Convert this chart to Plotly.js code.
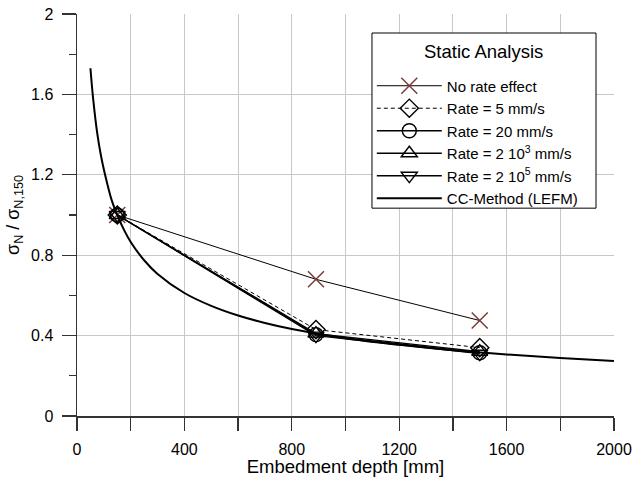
<!DOCTYPE html>
<html><head><meta charset="utf-8">
<script src="https://cdn.plot.ly/plotly-3.0.1.min.js"></script>
<style>body{margin:0;}#c{width:632px;height:477px;}</style>
</head><body><div id="c"></div>
<script>
const depth = [150, 890, 1500];
const noRate = [1.0, 0.68, 0.475];
const rate5 = [1.0, 0.43, 0.34];
const rate20 = [1.0, 0.405, 0.315];
const rate2e3 = [1.0, 0.41, 0.32];
const rate2e5 = [1.0, 0.40, 0.31];
const ccX = [50, 60, 75, 90, 110, 130, 150, 175, 200, 250, 300, 400, 500, 600, 700, 800, 1000, 1200, 1400, 1600, 1800, 2000];
const ccY = [1.73, 1.58, 1.41, 1.29, 1.17, 1.07, 1.0, 0.926, 0.866, 0.775, 0.707, 0.612, 0.548, 0.5, 0.463, 0.433, 0.387, 0.354, 0.327, 0.306, 0.289, 0.274];
const names = ['No rate effect', 'Rate = 5 mm/s', 'Rate = 20 mm/s', 'Rate = 2 10<sup>3</sup> mm/s', 'Rate = 2 10<sup>5</sup> mm/s', 'CC-Method (LEFM)'];
const legendTitle = 'Static Analysis';

const mk = (sym) => ({symbol: sym, size: 14, color: 'black', line: {color: 'black', width: 1.4}});
const traces = [
  {x: depth, y: noRate, name: names[0], mode: 'lines+markers', line: {color: 'black', width: 1},
   marker: {symbol: 'x-thin', size: 16, color: '#7a3b3b', line: {color: '#7a3b3b', width: 1.5}}},
  {x: depth, y: rate5, name: names[1], mode: 'lines+markers', line: {color: 'black', width: 1, dash: '4px,3px'}, marker: mk('diamond-open')},
  {x: depth, y: rate20, name: names[2], mode: 'lines+markers', line: {color: 'black', width: 1.3}, marker: mk('circle-open')},
  {x: depth, y: rate2e3, name: names[3], mode: 'lines+markers', line: {color: 'black', width: 1.3}, marker: mk('triangle-up-open')},
  {x: depth, y: rate2e5, name: names[4], mode: 'lines+markers', line: {color: 'black', width: 1.3}, marker: mk('triangle-down-open')},
  {x: ccX, y: ccY, name: names[5], mode: 'lines', line: {color: 'black', width: 2, shape: 'spline'}}
];
const layout = {
  width: 632, height: 477,
  margin: {l: 77, r: 18, t: 14, b: 61},
  paper_bgcolor: 'white', plot_bgcolor: 'white',
  font: {family: '"Liberation Sans", Arial, sans-serif', size: 16, color: 'black'},
  xaxis: {range: [0, 2000], tickvals: [0, 400, 800, 1200, 1600, 2000], showgrid: false,
    ticks: 'outside', ticklen: 13, tickcolor: '#333', tickwidth: 1.3, showline: true, linecolor: '#333', linewidth: 1.5,
    minor: {dtick: 200, tick0: 0, ticks: 'outside', ticklen: 13, tickcolor: '#333', tickwidth: 1.3, showgrid: true, gridcolor: '#c8c8c8', gridwidth: 1},
    tickfont: {size: 16}, ticklabelstandoff: 5,
    title: {text: 'Embedment depth [mm]', font: {size: 18.5}, standoff: 0}, zeroline: false},
  yaxis: {range: [0, 2], tickvals: [0, 0.4, 0.8, 1.2, 1.6, 2], ticktext: ['0', '0.4', '0.8', '1.2', '1.6', '2'],
    showgrid: true, gridcolor: '#c8c8c8', gridwidth: 1,
    ticks: 'outside', ticklen: 14, tickcolor: '#333', tickwidth: 1.3, showline: true, linecolor: '#333', linewidth: 1.5,
    minor: {dtick: 0.2, tick0: 0, ticks: 'outside', ticklen: 7, tickcolor: '#333', tickwidth: 1.3, showgrid: false},
    tickfont: {size: 16}, ticklabelstandoff: 5,
    title: {text: 'σ<sub>N</sub> / σ<sub>N,150</sub>', font: {size: 18}, standoff: 6}, zeroline: false},
  shapes: [{type: 'rect', xref: 'paper', yref: 'paper', x0: 0.5493, x1: 0.9665, y0: 0.517, y1: 0.9527,
    fillcolor: 'white', line: {color: 'black', width: 1}, layer: 'above'}],
  annotations: [{text: legendTitle, xref: 'paper', yref: 'paper', x: 0.7579, y: 0.9055, xanchor: 'center', yanchor: 'middle',
    showarrow: false, font: {size: 18.5}}],
  showlegend: true,
  legend: {x: 0.549, y: 0.862, xanchor: 'left', yanchor: 'top', bgcolor: 'rgba(0,0,0,0)', borderwidth: 0,
    font: {size: 15}, itemwidth: 65, tracegroupgap: 0, traceorder: 'normal'}
};
Plotly.newPlot('c', traces, layout, {displayModeBar: false, staticPlot: true});
</script></body></html>
